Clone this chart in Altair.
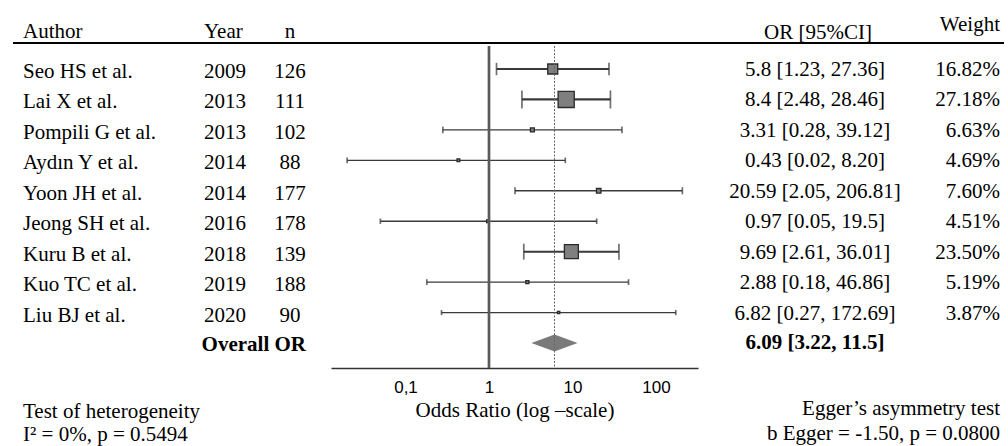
import altair as alt
import pandas as pd

# ---------------- data ----------------
authors = ["Seo HS et al.", "Lai X et al.", "Pompili G et al.", "Aydın Y et al.",
           "Yoon JH et al.", "Jeong SH et al.", "Kuru B et al.", "Kuo TC et al.",
           "Liu BJ et al."]
years = [2009, 2013, 2013, 2014, 2014, 2016, 2018, 2019, 2020]
ns = [126, 111, 102, 88, 177, 178, 139, 188, 90]
odds = [5.8, 8.4, 3.31, 0.43, 20.59, 0.97, 9.69, 2.88, 6.82]
lower = [1.23, 2.48, 0.28, 0.02, 2.05, 0.05, 2.61, 0.18, 0.27]
upper = [27.36, 28.46, 39.12, 8.20, 206.81, 19.5, 36.01, 46.86, 172.69]
ci_labels = ["5.8 [1.23, 27.36]", "8.4 [2.48, 28.46]", "3.31 [0.28, 39.12]",
             "0.43 [0.02, 8.20]", "20.59 [2.05, 206.81]", "0.97 [0.05, 19.5]",
             "9.69 [2.61, 36.01]", "2.88 [0.18, 46.86]", "6.82 [0.27, 172.69]"]
weights = [16.82, 27.18, 6.63, 4.69, 7.60, 4.51, 23.50, 5.19, 3.87]

overall_or = 6.09
overall_lo = 3.22
overall_hi = 11.5
overall_label = "6.09 [3.22, 11.5]"

x_ticks = [0.1, 1, 10, 100]

heterogeneity = ["Test of heterogeneity", "I² = 0%, p = 0.5494"]
egger = ["Egger’s asymmetry test", "b Egger = -1.50, p = 0.0800"]

# ---------------- tables ----------------
rows = list(range(len(authors)))
overall_row = len(authors)
df = pd.DataFrame({
    "row": rows, "author": authors, "year": [str(y) for y in years],
    "n": [str(v) for v in ns], "or": odds, "lo": lower, "hi": upper,
    "ci": ci_labels, "weight": weights,
    "wlabel": [f"{w:.2f}%" for w in weights],
})

DIAMOND_HALF = 0.28  # half height of the summary diamond, in row units
df_diamond = pd.DataFrame({
    "x": [overall_lo, overall_or, overall_hi],
    "y": [overall_row, overall_row - DIAMOND_HALF, overall_row],
    "y2": [overall_row, overall_row + DIAMOND_HALF, overall_row],
})
df_overall = pd.DataFrame({"row": [overall_row], "label": ["Overall OR"],
                           "ci": [overall_label], "or": [overall_or]})

SERIF = "Liberation Serif"
SANS = "Liberation Sans"
FS = 21

xs = alt.Scale(type="log", domain=[0.01282, 318.4], range=[331, 698])
ys = alt.Scale(domain=[0, overall_row], range=[69, 343])
ax = alt.Axis(values=x_ticks, format="~g",
              labelExpr="replace(datum.label, '.', ',')",
              title="Odds Ratio (log –scale)", ticks=False, grid=False,
              domainColor="#333333", domainWidth=1.5,
              labelFont=SANS, labelFontSize=17, labelColor="black",
              labelPadding=11, titleFont=SERIF, titleFontSize=FS,
              titleFontWeight="normal", titleColor="black", titlePadding=4)
Y = alt.Y("row:Q", scale=ys, axis=None)


def X(field):
    return alt.X(field, scale=xs, axis=ax)


base = alt.Chart(df)

ci_rules = base.mark_rule(color="#3a3a3a").encode(
    x=X("lo:Q"), x2="hi:Q", y=Y,
    size=alt.Size("weight:Q", scale=alt.Scale(domain=[0, 27.18], range=[1.2, 2.2]), legend=None),
)
cap_lo = base.mark_tick(orient="vertical", color="#333333", thickness=1.7).encode(
    x=X("lo:Q"), y=Y,
    size=alt.Size("weight:Q", scale=alt.Scale(domain=[0, 27.18], range=[3, 18]), legend=None),
)
cap_hi = base.mark_tick(orient="vertical", color="#333333", thickness=1.7).encode(
    x=X("hi:Q"), y=Y,
    size=alt.Size("weight:Q", scale=alt.Scale(domain=[0, 27.18], range=[3, 18]), legend=None),
)
squares = base.mark_square(fill="#7f7f7f", stroke="#2a2a2a", strokeWidth=1.3, opacity=1).encode(
    x=X("or:Q"), y=Y,
    size=alt.Size("weight:Q", scale=alt.Scale(type="pow", exponent=2, domain=[0, 27.18], range=[0, 260]), legend=None),
)
diamond = alt.Chart(df_diamond).mark_area(orient="vertical", color="#7a7a7a", opacity=1).encode(
    x=X("x:Q"), y=alt.Y("y:Q", scale=ys, axis=None), y2="y2:Q",
)
null_line = alt.Chart(pd.DataFrame({"v": [1]})).mark_rule(color="#5a5a5a", strokeWidth=2.7).encode(
    x=X("v:Q"), y=alt.value(46), y2=alt.value(368),
)
overall_line = alt.Chart(df_overall).mark_rule(color="#666666", strokeWidth=1, strokeDash=[2, 1.5]).encode(
    x=X("or:Q"), y=alt.value(46), y2=alt.value(368),
)

header_line = alt.Chart(pd.DataFrame({"a": [0]})).mark_rule(color="black", strokeWidth=2).encode(
    x=alt.value(13), x2=alt.value(1004), y=alt.value(43),
)


def col_text(field, x, align, dy=1, data=df, weight="normal"):
    return alt.Chart(data).mark_text(
        align=align, baseline="middle", font=SERIF, fontSize=FS, color="black",
        dy=dy, fontWeight=weight,
    ).encode(x=alt.value(x), y=Y, text=f"{field}:N")


def fixed_text(txt, x, y, align, weight="normal"):
    return alt.Chart(pd.DataFrame({"t": [txt]})).mark_text(
        align=align, baseline="middle", font=SERIF, fontSize=FS, color="black",
        fontWeight=weight,
    ).encode(x=alt.value(x), y=alt.value(y), text="t:N")


texts = [
    col_text("author", 23, "left", dy=3),
    col_text("year", 204, "left", dy=3),
    col_text("n", 290, "center", dy=3),
    col_text("ci", 815, "center", dy=1),
    col_text("wlabel", 1000, "right", dy=1),
    col_text("label", 306, "right", dy=2, data=df_overall, weight="bold"),
    col_text("ci", 815, "center", dy=0, data=df_overall, weight="bold"),
    fixed_text("Author", 23, 32, "left"),
    fixed_text("Year", 204, 32, "left"),
    fixed_text("n", 290, 32, "center"),
    fixed_text("OR [95%CI]", 818, 33, "center"),
    fixed_text("Weight", 1000, 25, "right"),
    fixed_text(heterogeneity[0], 23, 412, "left"),
    fixed_text(heterogeneity[1], 23, 435, "left"),
    fixed_text(egger[0], 1000, 409, "right"),
    fixed_text(egger[1], 1000, 434, "right"),
]

chart = alt.layer(
    ci_rules, cap_lo, cap_hi, squares, diamond, null_line, overall_line,
    header_line, *texts,
).resolve_scale(size="independent").properties(
    width=1008, height=368,
    autosize=alt.AutoSizeParams(type="none"),
    padding={"left": 0, "top": 0, "right": 0, "bottom": 78},
    background="white",
).configure_view(stroke=None)

chart.save("out.html", embed_options={"renderer": "svg", "actions": False})
